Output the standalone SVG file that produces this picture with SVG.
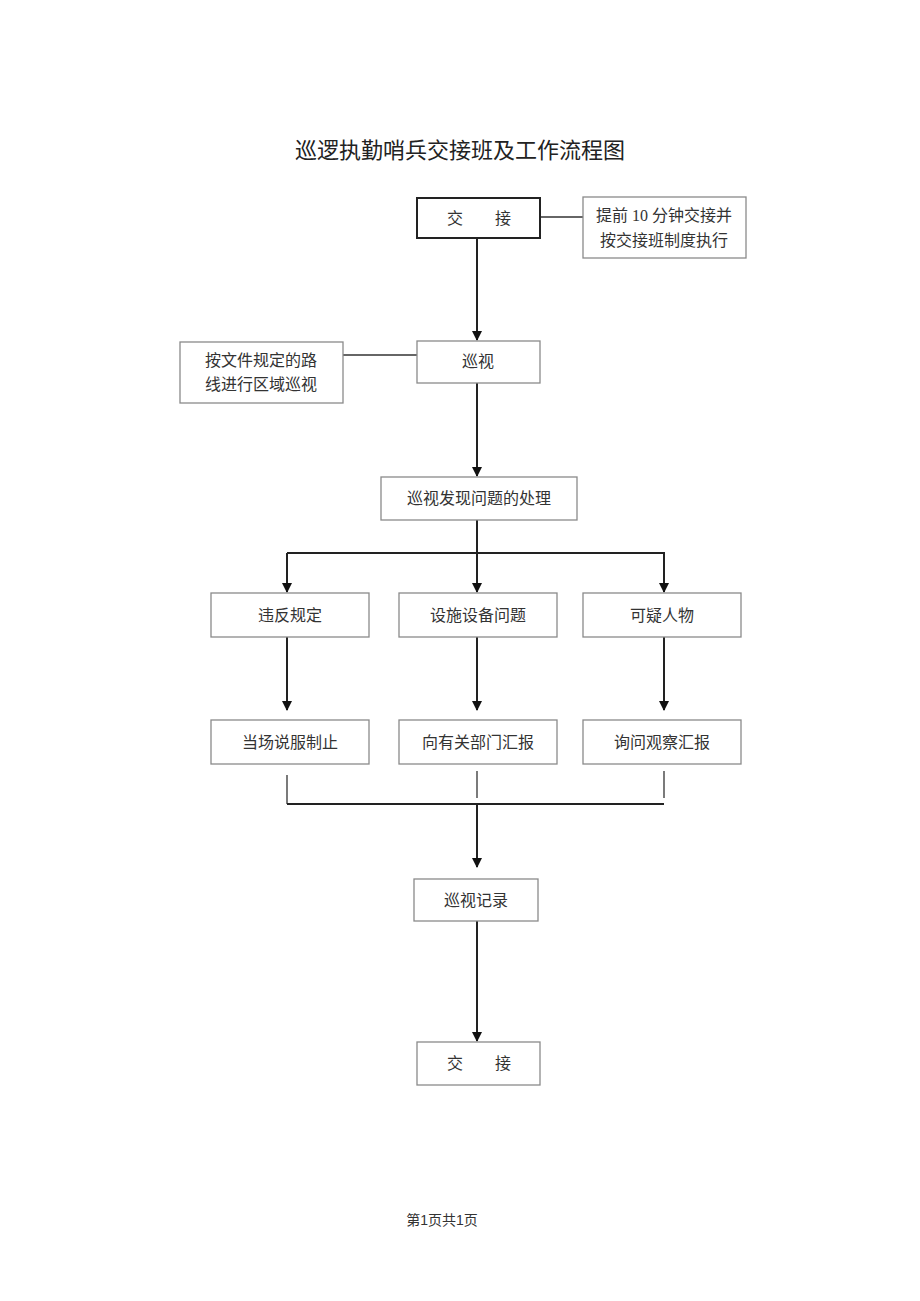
<svg xmlns="http://www.w3.org/2000/svg" width="920" height="1301" viewBox="0 0 920 1301">
<defs>
<style>
.box{fill:#fff;stroke:#8a8a8a;stroke-width:1.3}
.dark{fill:#fff;stroke:#222;stroke-width:2}
.t{font-family:"Liberation Serif","Noto Sans CJK SC",serif;font-size:16px;fill:#333;text-anchor:middle}
.ln{stroke:#222;stroke-width:2;fill:none}
.thin{stroke:#333;stroke-width:1.3;fill:none}
</style>
<marker id="arr" markerWidth="10" markerHeight="12" refX="9" refY="5" orient="auto" markerUnits="userSpaceOnUse" viewBox="0 0 10 10">
<path d="M0,0 L10,5 L0,10 Z" fill="#111"/>
</marker>
</defs>
<rect width="920" height="1301" fill="#fff"/>
<text x="460" y="158" font-family="'Liberation Serif','Noto Sans CJK SC',serif" font-size="22" fill="#222" text-anchor="middle">巡逻执勤哨兵交接班及工作流程图</text>

<g id="connectors">
<line class="thin" x1="540" y1="217" x2="583" y2="217"/>
<line class="ln" x1="477" y1="238" x2="477" y2="340" marker-end="url(#arr)"/>
<line class="thin" x1="343" y1="355" x2="417" y2="355"/>
<line class="ln" x1="477" y1="383" x2="477" y2="476" marker-end="url(#arr)"/>
<line class="ln" x1="477" y1="520" x2="477" y2="592" marker-end="url(#arr)"/>
<polyline class="ln" points="287,553 664,553 664,592" marker-end="url(#arr)"/>
<line class="ln" x1="287" y1="553" x2="287" y2="592" marker-end="url(#arr)"/>
<line class="ln" x1="287" y1="637" x2="287" y2="710" marker-end="url(#arr)"/>
<line class="ln" x1="477" y1="637" x2="477" y2="710" marker-end="url(#arr)"/>
<line class="ln" x1="664" y1="637" x2="664" y2="710" marker-end="url(#arr)"/>
<line class="thin" x1="287" y1="775" x2="287" y2="804"/>
<line class="thin" x1="477" y1="771" x2="477" y2="798"/>
<line class="thin" x1="664" y1="771" x2="664" y2="798"/>
<line class="ln" x1="287" y1="804" x2="664" y2="804"/>
<line class="ln" x1="477" y1="804" x2="477" y2="867" marker-end="url(#arr)"/>
<line class="ln" x1="477" y1="921" x2="477" y2="1041" marker-end="url(#arr)"/>
</g>

<g id="n_jj1"><rect class="dark" x="417" y="198" width="123" height="40"/><text class="t" x="455" y="224">交</text><text class="t" x="503" y="224">接</text></g>
<g id="n_note1"><rect class="box" x="583" y="197" width="163" height="61"/><text class="t" x="664" y="221">提前 10 分钟交接并</text><text class="t" x="664" y="246">按交接班制度执行</text></g>
<g id="n_xs"><rect class="box" x="417" y="341" width="123" height="42"/><text class="t" x="478" y="367">巡视</text></g>
<g id="n_note2"><rect class="box" x="180" y="342" width="163" height="61"/><text class="t" x="261" y="366">按文件规定的路</text><text class="t" x="261" y="390">线进行区域巡视</text></g>
<g id="n_cl"><rect class="box" x="381" y="477" width="196" height="43"/><text class="t" x="479" y="504">巡视发现问题的处理</text></g>
<g id="n_wf"><rect class="box" x="211" y="593" width="158" height="44"/><text class="t" x="290" y="621">违反规定</text></g>
<g id="n_ss"><rect class="box" x="399" y="593" width="158" height="44"/><text class="t" x="478" y="621">设施设备问题</text></g>
<g id="n_ky"><rect class="box" x="583" y="593" width="158" height="44"/><text class="t" x="662" y="621">可疑人物</text></g>
<g id="n_dc"><rect class="box" x="211" y="720" width="158" height="44"/><text class="t" x="290" y="748">当场说服制止</text></g>
<g id="n_xy"><rect class="box" x="399" y="720" width="158" height="44"/><text class="t" x="478" y="748">向有关部门汇报</text></g>
<g id="n_xw"><rect class="box" x="583" y="720" width="158" height="44"/><text class="t" x="662" y="748">询问观察汇报</text></g>
<g id="n_jl"><rect class="box" x="414" y="879" width="124" height="42"/><text class="t" x="476" y="906">巡视记录</text></g>
<g id="n_jj2"><rect class="box" x="417" y="1042" width="123" height="43"/><text class="t" x="455" y="1069">交</text><text class="t" x="503" y="1069">接</text></g>

<text x="442" y="1225" font-family="'Liberation Sans','Noto Sans CJK SC',sans-serif" font-size="14" fill="#333" text-anchor="middle">第1页共1页</text>
</svg>
